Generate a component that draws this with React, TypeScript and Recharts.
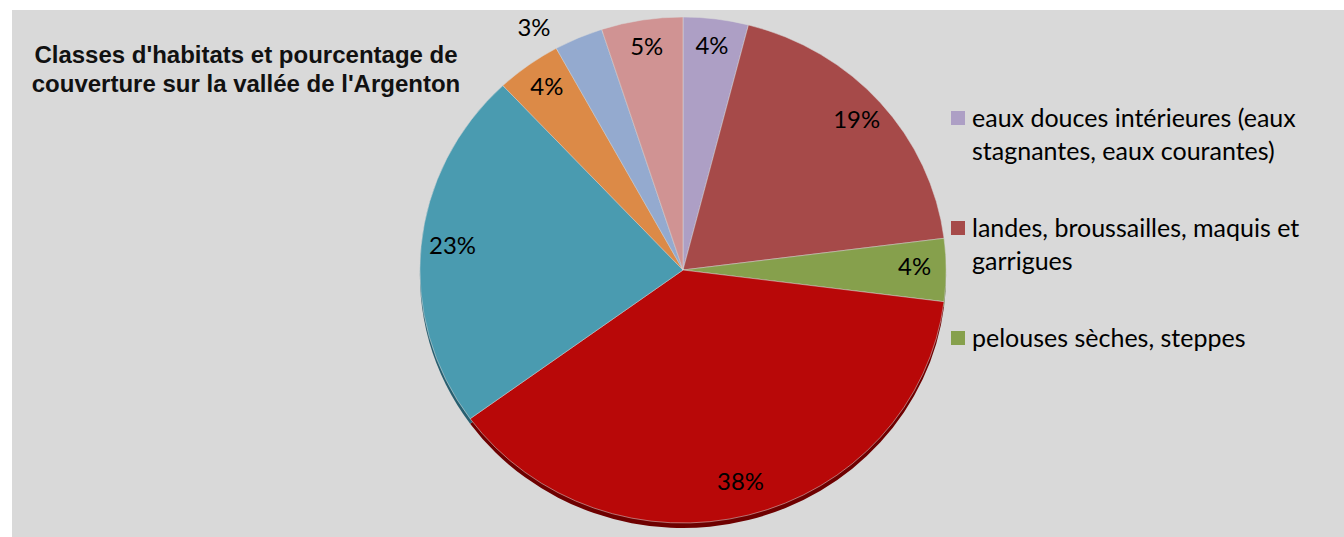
import { PieChart, Pie, Cell, Legend } from 'recharts'

// classes d'habitats (ordre horaire depuis midi)
const habitats = [
  "eaux douces intérieures (eaux stagnantes, eaux courantes)",
  'landes, broussailles, maquis et garrigues',
  'pelouses sèches, steppes',
  'forêts caducifoliées',
  'prairies humides et mégaphorbiaies',
  'fourrés et bois clairs',
  'falaises et éboulis',
  'cultures et zones artificialisées',
]
const couverture = [4, 19, 4, 38, 23, 4, 3, 5]
const couleurs = ['#ad9fc5', '#a64a49', '#86a04c', '#b80808', '#4a9bb0', '#dc8a47', '#94aacf', '#d09393']
const ombres = ['#6d5f80', '#6a2020', '#4f6428', '#6e0000', '#285f70', '#8a4f20', '#5a6c90', '#8a5050']

const data = habitats.map((name, i) => ({ name, value: couverture[i] }))

const RAD = Math.PI / 180

function renderLabel(props: any) {
  const { cx, cy, midAngle, outerRadius, index, value } = props
  // la petite part (3%) a son étiquette à l'extérieur, décalée vers la gauche
  const outside = index === 6
  const r = outside ? outerRadius + 12 : outerRadius * 0.88
  const x = cx + r * Math.cos(-midAngle * RAD) - (outside ? 38 : 0)
  const y = cy + r * Math.sin(-midAngle * RAD) - (outside ? 0 : 4)
  return (
    <text x={x} y={y} fill="#000" textAnchor="middle" dominantBaseline="central"
      style={{ fontFamily: 'Lato, sans-serif', fontSize: 23 }}>
      {value}%
    </text>
  )
}

function LegendBox() {
  return (
    <div style={{ fontFamily: 'Lato, sans-serif', fontSize: 25, lineHeight: '33px', color: '#000' }}>
      {habitats.slice(0, 3).map((h, i) => (
        <div key={i} style={{ display: 'flex', alignItems: 'flex-start', marginBottom: 44 }}>
          <span style={{
            width: 14, height: 14, background: couleurs[i], marginTop: 10, marginRight: 7, flex: 'none'
          }} />
          <span style={{ width: 350 }}>{h}</span>
        </div>
      ))}
    </div>
  )
}

export default function App() {
  return (
    <div style={{ position: 'absolute', left: 0, top: 0, width: 1344, height: 537, background: '#fff', overflow: 'hidden' }}>
      {/* léger aplatissement du camembert (vue inclinée), sans toucher la légende */}
      <style>{'.pie-wrap .recharts-surface { transform: scaleX(1.04); transform-origin: 683px 0; }'}</style>
      <div style={{ position: 'absolute', left: 12, top: 10, width: 1332, height: 527, background: '#d9d9d9' }} />
      <div style={{
        position: 'absolute', left: 10, top: 40, width: 472, textAlign: 'center',
        fontFamily: '"Liberation Sans", Arial, sans-serif', fontWeight: 700, fontSize: 24, lineHeight: '29px', color: '#111'
      }}>
        Classes d'habitats et pourcentage de<br />couverture sur la vallée de l'Argenton
      </div>
      <div className="pie-wrap" style={{ position: 'absolute', left: 0, top: 0 }}>
        <PieChart width={1344} height={537} margin={{ top: 0, right: 0, bottom: 0, left: 0 }}>
          <Pie data={data} dataKey="value" nameKey="name" cx={683} cy={275} outerRadius={253}
            startAngle={90} endAngle={-270} stroke="none" isAnimationActive={false}>
            {data.map((_, i) => <Cell key={i} fill={ombres[i]} />)}
          </Pie>
          <Pie data={data} dataKey="value" nameKey="name" cx={683} cy={270} outerRadius={253}
            startAngle={90} endAngle={-270} stroke="#d9d9d9" strokeWidth={0.5}
            label={renderLabel} labelLine={false} isAnimationActive={false}>
            {data.map((_, i) => <Cell key={i} fill={couleurs[i]} />)}
          </Pie>
          <Legend layout="vertical" verticalAlign="top" align="right"
            wrapperStyle={{ top: 101, left: 951, width: 390 }} content={() => <LegendBox />} />
        </PieChart>
      </div>
    </div>
  )
}
